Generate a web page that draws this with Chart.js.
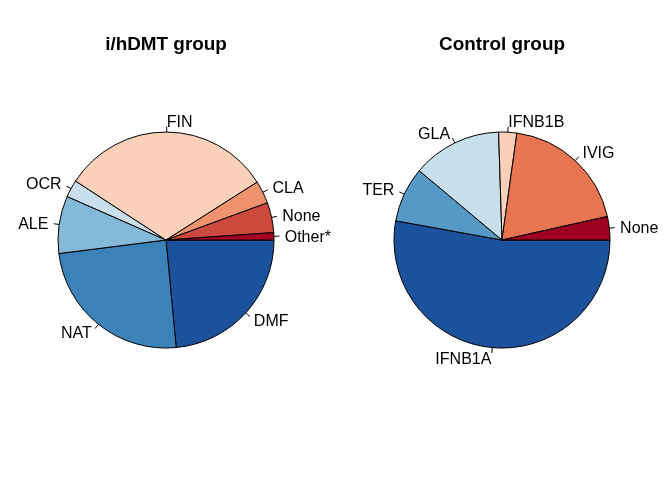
<!DOCTYPE html>
<html>
<head>
<meta charset="utf-8">
<script src="https://cdn.jsdelivr.net/npm/chart.js@4.4.1/dist/chart.umd.min.js"></script>
<style>
  body { margin: 0; background: #fff; }
  #wrap { display: flex; width: 672px; height: 480px; }
  canvas { display: block; }
</style>
</head>
<body>
<div id="wrap">
  <canvas id="dmtChart" width="336" height="480"></canvas>
  <canvas id="ctrlChart" width="336" height="480"></canvas>
</div>
<script>
// slices in R order: counterclockwise starting at 3 o'clock (share in %)
const dmtLabels = ['Other*', 'None', 'CLA', 'FIN', 'OCR', 'ALE', 'NAT', 'DMF']
const dmtValues = [1.1, 4.5, 3.4, 31.8, 2.6, 8.6, 24.5, 23.5]
const dmtColors = ['#A50026', '#CB4A3D', '#EF936F', '#FBD1BA', '#C9DFEC', '#84B9D7', '#3B82B9', '#1C519C']

const ctrlLabels = ['None', 'IVIG', 'IFNB1B', 'GLA', 'TER', 'IFNB1A']
const ctrlValues = [3.5, 19.3, 2.7, 13.4, 8.25, 52.85]
const ctrlColors = ['#A00020', '#E87552', '#FBD0BA', '#C7DEEB', '#5698C6', '#1C519C']

Chart.defaults.font.family = "'Liberation Sans', Arial, sans-serif";
Chart.defaults.color = '#000';

// R style labels: short tick from r to 1.05r, text at 1.1r
const pieLabels = {
    id: 'pieLabels',
    afterDatasetsDraw(chart) {
        const ctx = chart.ctx
        const meta = chart.getDatasetMeta(0)
        const labels = chart.data.labels
        ctx.save()
        ctx.font = "16px 'Liberation Sans', Arial, sans-serif"
        ctx.fillStyle = '#000'
        ctx.strokeStyle = '#000'
        ctx.lineWidth = 1
        ctx.textBaseline = 'middle'
        meta.data.forEach((arc, i) => {
            const mid = (arc.startAngle + arc.endAngle) / 2
            const r = arc.outerRadius
            const c = Math.cos(mid), s = Math.sin(mid)
            ctx.beginPath()
            ctx.moveTo(arc.x + r * c, arc.y + r * s)
            ctx.lineTo(arc.x + 1.05 * r * c, arc.y + 1.05 * r * s)
            ctx.stroke()
            ctx.textAlign = c < 0 ? 'right' : 'left'
            ctx.fillText(labels[i], arc.x + 1.1 * r * c, arc.y + 1.1 * r * s + 1.2)
        })
        ctx.restore()
    }
}

function makePie(id, title, labels, values, colors) {
    // Chart.js goes clockwise, so feed the slices backwards
    return new Chart(document.getElementById(id), {
        type: 'pie',
        data: {
            labels: labels.slice().reverse(),
            datasets: [{
                data: values.slice().reverse(),
                backgroundColor: colors.slice().reverse(),
                borderColor: '#000',
                borderWidth: 1
            }]
        },
        options: {
            responsive: false,
            animation: false,
            rotation: 90,
            radius: 108,
            layout: {padding: {left: 48, right: 52, bottom: 75}},
            plugins: {
                legend: {display: false},
                tooltip: {enabled: false},
                title: {
                    display: true,
                    text: title,
                    color: '#000',
                    font: {size: 18.9, weight: 'bold', lineHeight: 1.2},
                    padding: {top: 33, bottom: 19.4}
                }
            }
        },
        plugins: [pieLabels]
    })
}

const dmtChart = makePie('dmtChart', 'i/hDMT group', dmtLabels, dmtValues, dmtColors)
const ctrlChart = makePie('ctrlChart', 'Control group', ctrlLabels, ctrlValues, ctrlColors)
</script>
</body>
</html>
